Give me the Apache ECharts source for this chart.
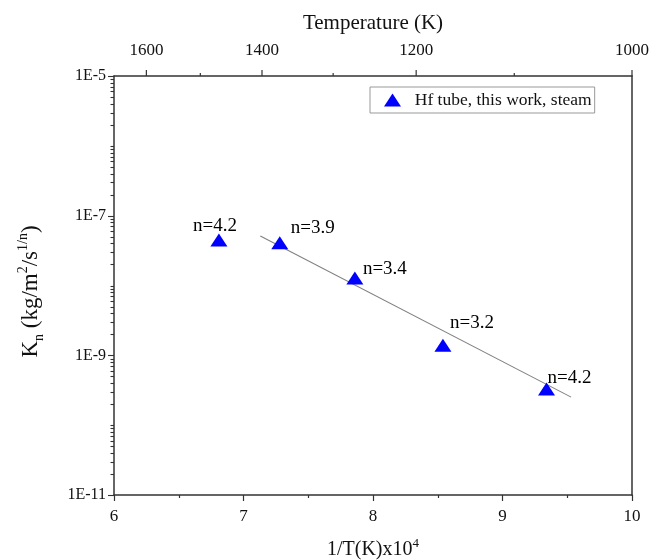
<!DOCTYPE html>
<html>
<head>
<meta charset="utf-8">
<script src="https://cdn.jsdelivr.net/npm/echarts@6/dist/echarts.min.js"></script>
<style>
  html, body { margin: 0; padding: 0; background: #fff; }
  #chart { width: 656px; height: 560px; }
</style>
</head>
<body>
<div id="chart"></div>
<script>
// Parabolic rate constant vs. reciprocal temperature (Hf tube in steam)
const invT = [6.81, 7.28, 7.86, 8.54, 9.34];            // 1/T(K) x 10^4
const kn = [4.5e-8, 4.1e-8, 1.28e-8, 1.4e-9, 3.3e-10];  // K_n
const nExp = [4.2, 3.9, 3.4, 3.2, 4.2];                 // time exponent n

// Arrhenius fit line endpoints
const fitX = [7.13, 9.53];
const fitY = [5.1e-8, 2.52e-10];

// Top temperature axis ticks (K)
const tempMajor = [1600, 1400, 1200, 1000];
const tempMinor = [1500, 1300, 1100];

// Log axis decades
const yMin = 1e-11, yMax = 1e-5;

const FONT = 'Liberation Serif';
const AXIS_COLOR = '#333';
const TEXT_COLOR = '#111';

// Tick marks for the log y axis: majors every two decades, minors at 1..9 x 10^k
const yTicks = [];
for (let e = -11; e <= -5; e++) {
  const major = (e % 2 !== 0);
  yTicks.push({ value: Math.pow(10, e), kind: major ? 'major' : 'minor' });
  if (e < -5) {
    for (let m = 2; m <= 9; m++) yTicks.push({ value: m * Math.pow(10, e), kind: 'minor' });
  }
}

const tempTicks = tempMajor.map(t => ({ t, kind: 'major' }))
  .concat(tempMinor.map(t => ({ t, kind: 'minor' })));

// label centre relative to the marker centre
const labelOffsets = [[-4, -14], [33, -15], [30, -9], [29, -22], [23, -11]];

const chart = echarts.init(document.getElementById('chart'), null, { renderer: 'canvas' });

chart.setOption({
  backgroundColor: '#fff',
  animation: false,
  textStyle: { fontFamily: FONT },
  grid: { left: 114, right: 24, top: 76, bottom: 65, containLabel: false, outerBoundsMode: 'none' },
  legend: {
    left: 370, top: 87,
    padding: [4, 3, 4, 14],
    borderColor: '#999', borderWidth: 1,
    itemWidth: 17, itemHeight: 13, itemGap: 10,
    formatter: name => '  ' + name,
    textStyle: { fontFamily: FONT, fontSize: 17.5, color: TEXT_COLOR },
    data: [{ name: 'Hf tube, this work, steam', icon: 'triangle' }]
  },
  xAxis: [
    {
      type: 'value', min: 6, max: 10, interval: 1, position: 'bottom',
      name: '{a|1/T(K)x10}{sup|4}',
      nameLocation: 'middle', nameGap: 42,
      nameTextStyle: {
        fontFamily: FONT, fontSize: 20, color: TEXT_COLOR,
        rich: {
          a: { fontFamily: FONT, fontSize: 20, color: TEXT_COLOR, lineHeight: 26 },
          sup: { fontFamily: FONT, fontSize: 13, color: TEXT_COLOR, lineHeight: 14, verticalAlign: 'top' }
        }
      },
      axisLine: { show: true, lineStyle: { color: AXIS_COLOR, width: 1.5 } },
      axisTick: { show: true, inside: false, length: 6, lineStyle: { color: AXIS_COLOR, width: 1.2 } },
      minorTick: { show: true, splitNumber: 2, length: 3, lineStyle: { color: AXIS_COLOR, width: 1.2 } },
      axisLabel: { fontFamily: FONT, fontSize: 17, color: TEXT_COLOR, margin: 13 },
      splitLine: { show: false }
    },
    {
      type: 'value', min: 6, max: 10, position: 'top',
      name: 'Temperature (K)',
      nameLocation: 'middle', nameGap: 42,
      nameTextStyle: { fontFamily: FONT, fontSize: 21, color: TEXT_COLOR },
      axisLine: { show: true, lineStyle: { color: AXIS_COLOR, width: 1.5 } },
      axisTick: { show: false },
      axisLabel: { show: false },
      splitLine: { show: false }
    }
  ],
  yAxis: [
    {
      type: 'log', logBase: 10, min: yMin, max: yMax, interval: 2,
      name: '{a|K}{sub|n}{a| (kg/m}{sup|2}{a|/s}{sup|1/n}{a|)}',
      nameLocation: 'middle', nameGap: 68, nameRotate: 90,
      nameTextStyle: {
        fontFamily: FONT, fontSize: 23, color: TEXT_COLOR,
        padding: [0, 12, 0, 0],
        rich: {
          a: { fontFamily: FONT, fontSize: 23, color: TEXT_COLOR, lineHeight: 30 },
          sub: { fontFamily: FONT, fontSize: 14, color: TEXT_COLOR, lineHeight: 15, verticalAlign: 'bottom' },
          sup: { fontFamily: FONT, fontSize: 14, color: TEXT_COLOR, lineHeight: 15, verticalAlign: 'top' }
        }
      },
      axisLine: { show: true, lineStyle: { color: AXIS_COLOR, width: 1.5 } },
      axisTick: { show: false },
      axisLabel: {
        fontFamily: FONT, fontSize: 16, color: TEXT_COLOR, margin: 8,
        formatter: v => {
          const e = Math.round(Math.log10(v));
          return (e % 2 !== 0) ? '1E' + e : '';
        }
      },
      splitLine: { show: false }
    },
    {
      type: 'log', logBase: 10, min: yMin, max: yMax, position: 'right',
      axisLine: { show: true, lineStyle: { color: AXIS_COLOR, width: 1.5 } },
      axisTick: { show: false }, axisLabel: { show: false }, splitLine: { show: false }
    }
  ],
  series: [
    {
      name: 'fit',
      type: 'line',
      xAxisIndex: 0, yAxisIndex: 0,
      data: fitX.map((x, i) => [x, fitY[i]]),
      showSymbol: false, symbol: 'none',
      lineStyle: { color: '#808080', width: 1.1 },
      silent: true, z: 2
    },
    {
      name: 'Hf tube, this work, steam',
      type: 'scatter',
      xAxisIndex: 0, yAxisIndex: 0,
      symbol: 'triangle', symbolSize: [17, 13],
      itemStyle: { color: '#0000ff', opacity: 1 },
      data: invT.map((x, i) => ({
        value: [x, kn[i]],
        label: {
          show: true,
          formatter: 'n=' + nExp[i],
          position: 'inside',
          offset: labelOffsets[i],
          fontFamily: FONT, fontSize: 19, color: '#000'
        }
      })),
      z: 4
    },
    {
      // log y-axis tick marks
      type: 'custom',
      xAxisIndex: 0, yAxisIndex: 0,
      silent: true,
      data: yTicks.map(d => [6, d.value, d.kind === 'major' ? 1 : 0]),
      renderItem: (params, api) => {
        const p = api.coord([api.value(0), api.value(1)]);
        const len = api.value(2) ? 6 : 3.5;
        return {
          type: 'line',
          shape: { x1: p[0] - len, y1: Math.round(p[1]) + 0.5, x2: p[0], y2: Math.round(p[1]) + 0.5 },
          style: { stroke: AXIS_COLOR, lineWidth: 1.1 }
        };
      },
      z: 5
    },
    {
      // top temperature axis: ticks placed at 1e4/T
      type: 'custom',
      xAxisIndex: 1, yAxisIndex: 0,
      silent: true,
      data: tempTicks.map(d => [1e4 / d.t, yMax, d.kind === 'major' ? 1 : 0, d.t]),
      renderItem: (params, api) => {
        const p = api.coord([api.value(0), api.value(1)]);
        const major = api.value(2) === 1;
        const len = major ? 6 : 3;
        const children = [{
          type: 'line',
          shape: { x1: p[0], y1: p[1], x2: p[0], y2: p[1] - len },
          style: { stroke: AXIS_COLOR, lineWidth: 1.2 }
        }];
        if (major) {
          children.push({
            type: 'text',
            style: {
              x: p[0], y: p[1] - 17,
              text: String(api.value(3)),
              align: 'center', verticalAlign: 'bottom',
              font: '17px "Liberation Serif"', fill: TEXT_COLOR
            }
          });
        }
        return { type: 'group', children };
      },
      z: 5
    }
  ]
});
</script>
</body>
</html>
